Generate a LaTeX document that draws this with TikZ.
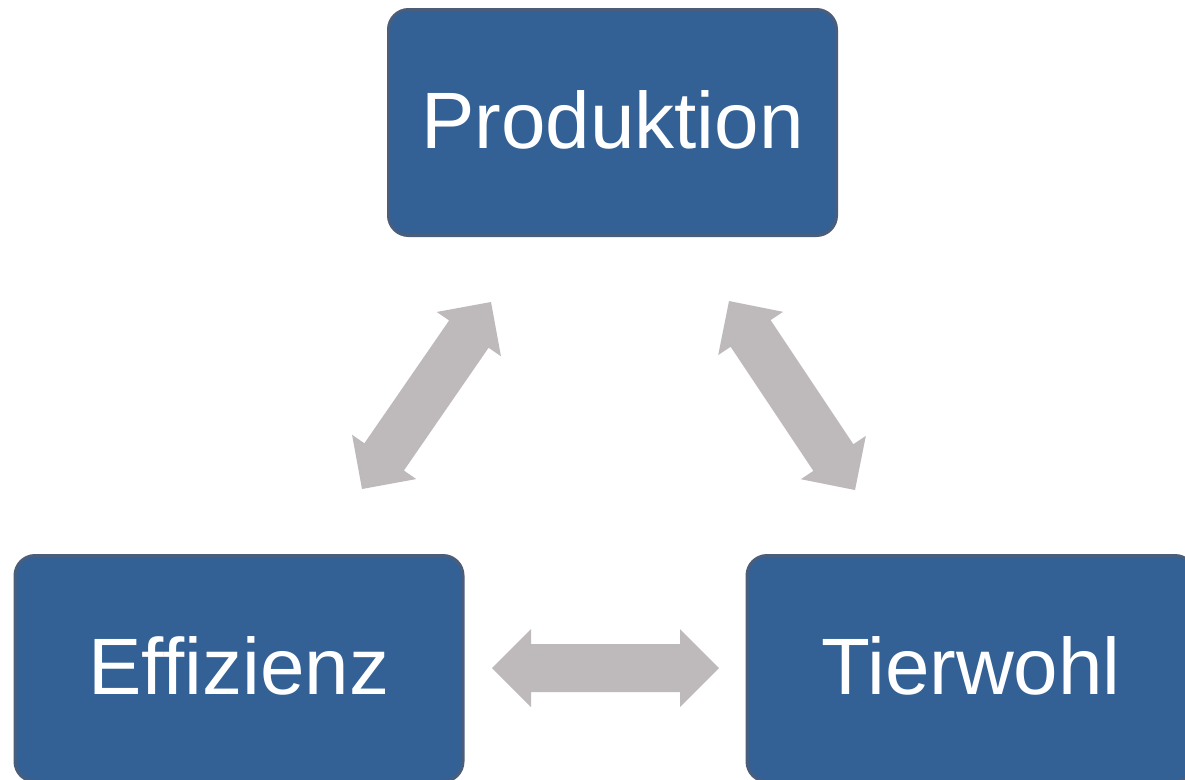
\documentclass[tikz,border=0pt]{standalone}
\usepackage{fontspec}
\setmainfont{Liberation Sans}
\usetikzlibrary{calc}
\definecolor{boxfill}{HTML}{336195}
\definecolor{boxline}{HTML}{4A5E7C}
\definecolor{arrowgray}{HTML}{BEB9BB}
\def\arrhl{29.25pt}
\def\arrhw{29.25pt}
\def\arrsw{18pt}
\newcommand\dblarr[2]{%
  \fill[dblfill] (#1)
    -- ($(#1)!\arrhl!(#2)!\arrhw!90:(#2)$)
    -- ($(#1)!\arrhl!(#2)!\arrsw!90:(#2)$)
    -- ($(#2)!\arrhl!(#1)!\arrsw!-90:(#1)$)
    -- ($(#2)!\arrhl!(#1)!\arrhw!-90:(#1)$)
    -- (#2)
    -- ($(#2)!\arrhl!(#1)!\arrhw!90:(#1)$)
    -- ($(#2)!\arrhl!(#1)!\arrsw!90:(#1)$)
    -- ($(#1)!\arrhl!(#2)!\arrsw!-90:(#2)$)
    -- ($(#1)!\arrhl!(#2)!\arrhw!-90:(#2)$)
    -- cycle;}
\begin{document}
\begin{tikzpicture}[x=0.75pt,y=-0.75pt,
  topic/.style={draw=boxline, line width=2.25pt, fill=boxfill,
    rounded corners=15pt, minimum width=336pt, minimum height=169.5pt,
    inner sep=0pt, text=white, font=\fontsize{60}{72}\selectfont,
    text height=43pt, text depth=4.5pt},
  dblfill/.style={fill=arrowgray}]
\useasboundingbox (0,0) rectangle (1185,779);
\clip (0,0) rectangle (1185,779);
\node[topic] (prod) at (612.5,122.5) {Produktion};
\node[topic] (eff) at (239,668.5) {Effizienz};
\node[topic] (tier) at (971,668.5) {Tierwohl};
\coordinate (l1) at (362,489);
\coordinate (l2) at (491,302);
\coordinate (r1) at (729,301);
\coordinate (r2) at (855,490);
\coordinate (h1) at (492,668);
\coordinate (h2) at (719,668);
\dblarr{l1}{l2}
\dblarr{r1}{r2}
\dblarr{h1}{h2}
\end{tikzpicture}
\end{document}
